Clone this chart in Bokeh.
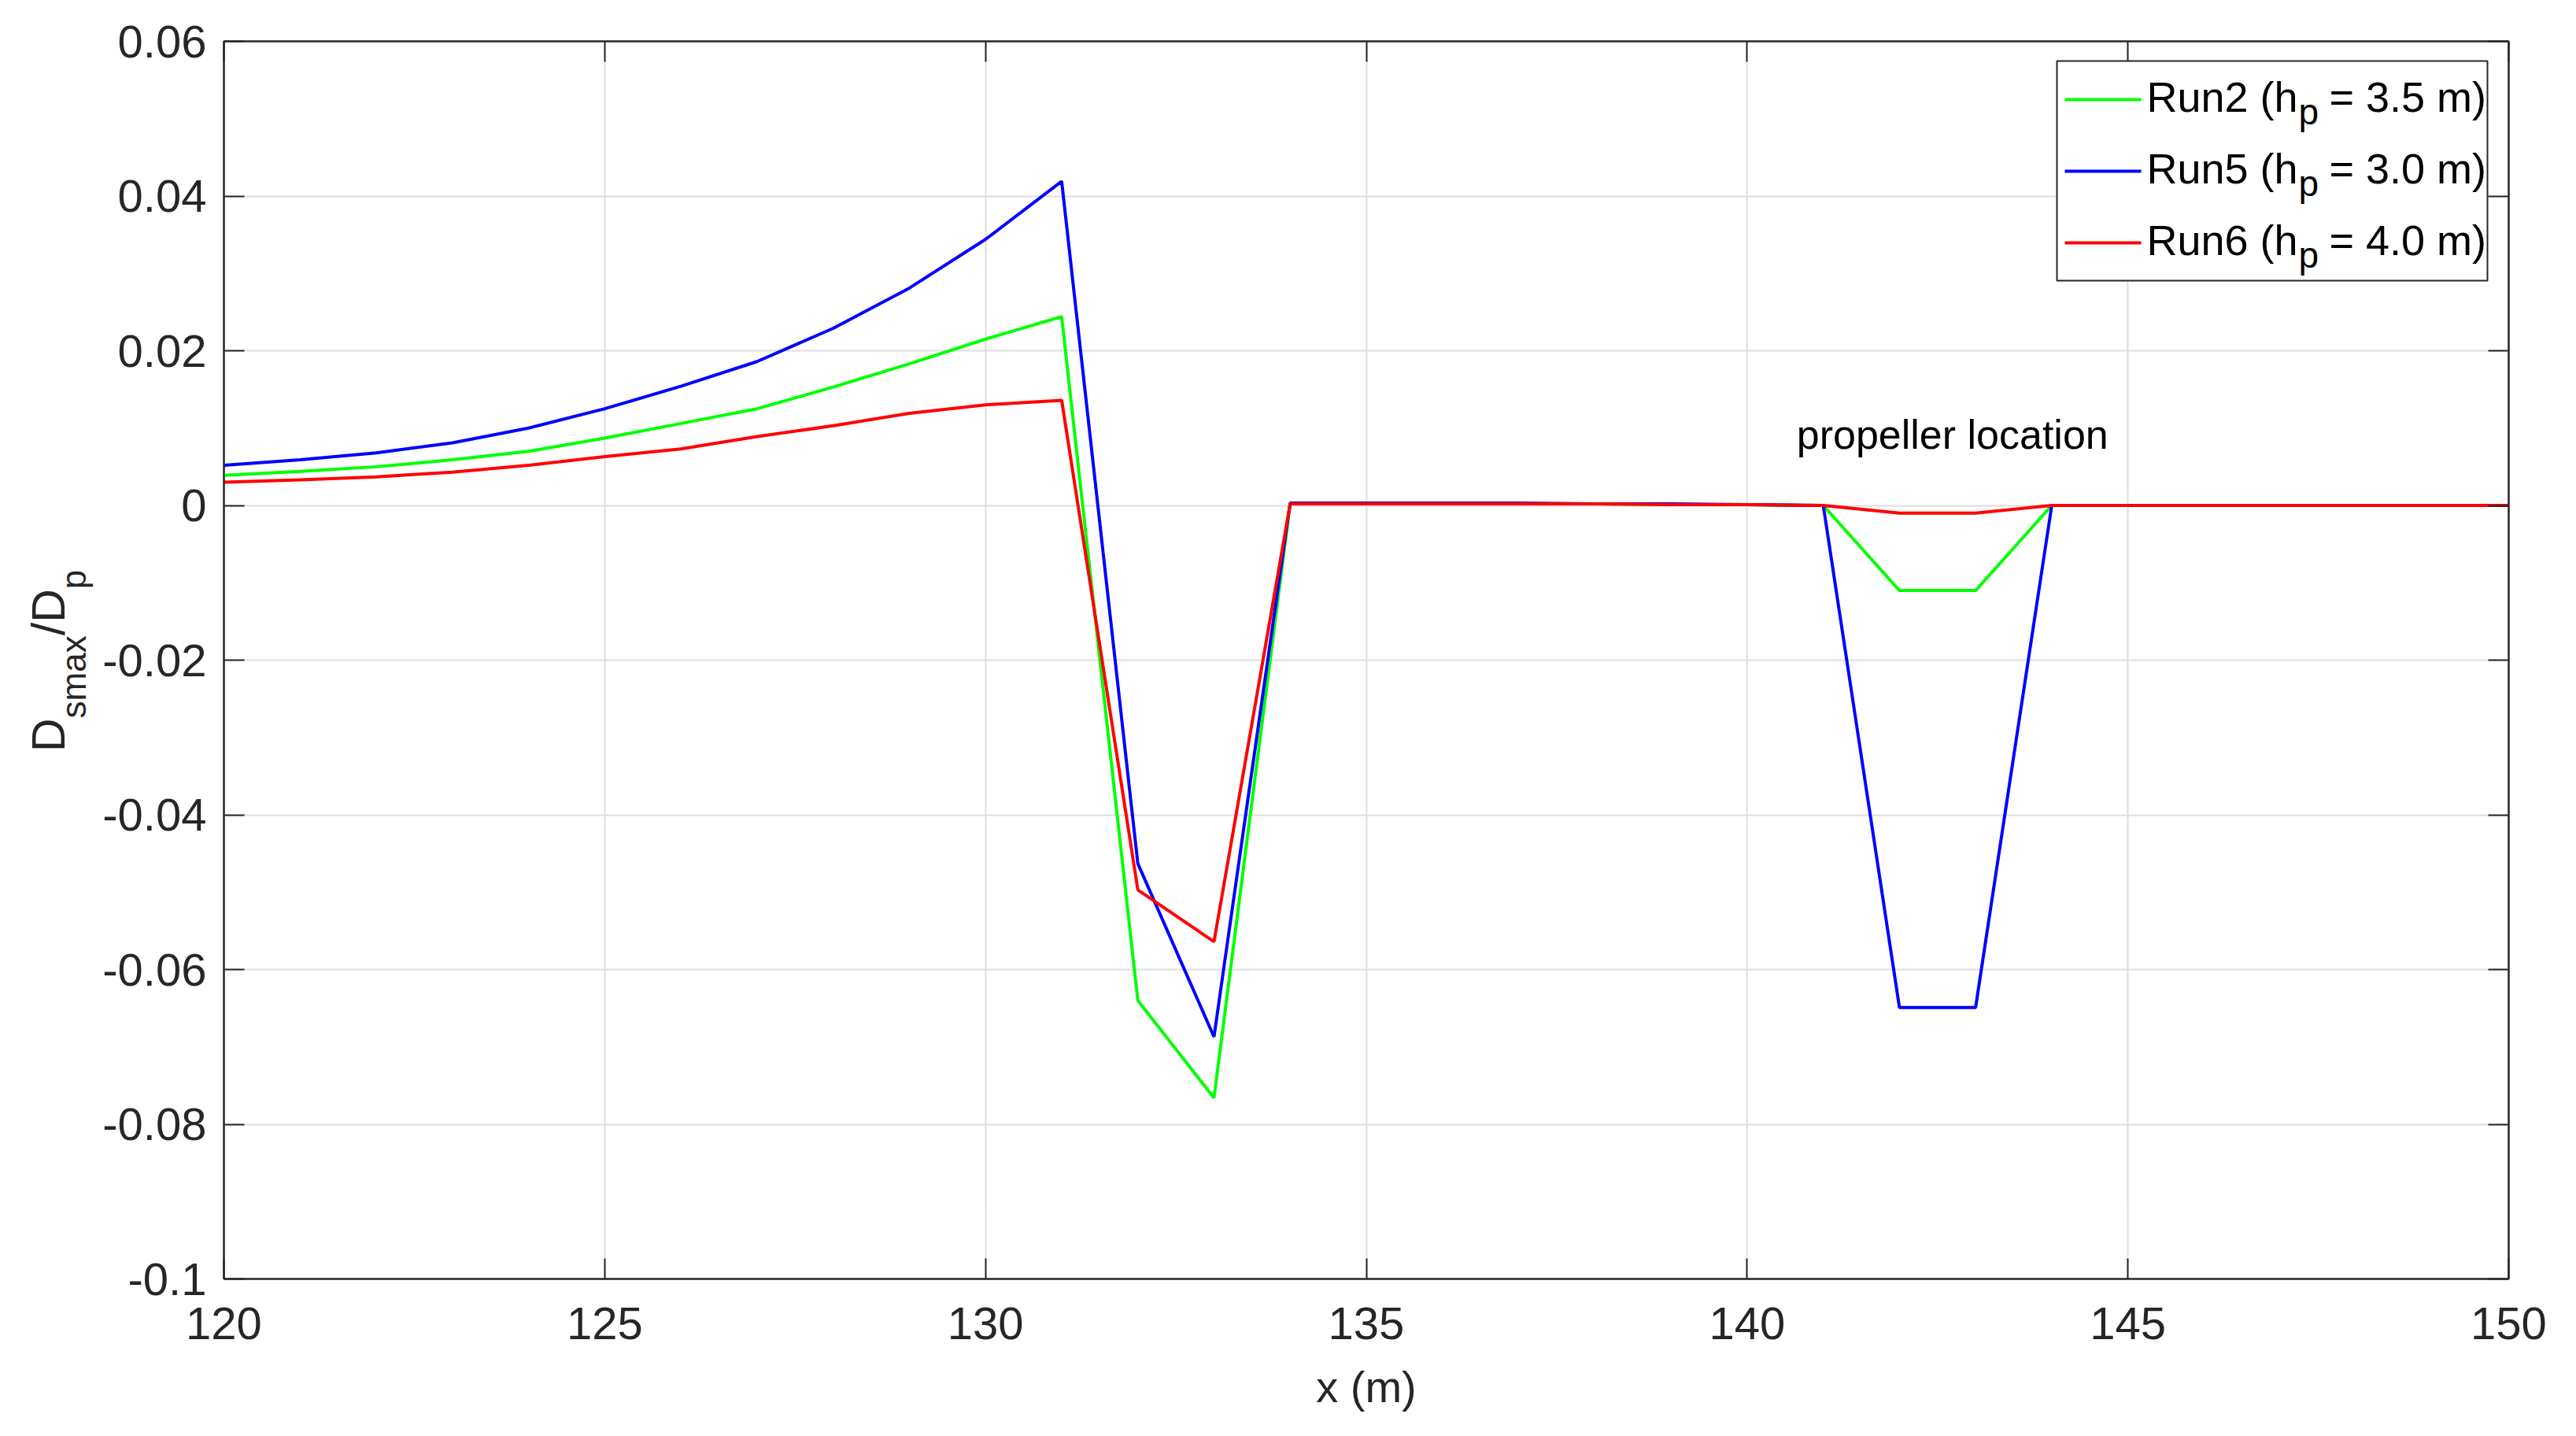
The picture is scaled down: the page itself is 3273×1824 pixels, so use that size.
from bokeh.plotting import figure
from bokeh.layouts import row
from bokeh.models import (Range1d, FixedTicker, LinearAxis, Label, Arrow,
                          BoxAnnotation, ColumnDataSource, Div)
from bokeh.embed import file_html
from bokeh.resources import INLINE

# ---------------- data ----------------
x_m = [120, 121, 122, 123, 124, 125, 126, 127, 128, 129, 130, 131, 132, 133, 134, 135,
       136, 137, 138, 139, 140, 141, 142, 143, 144, 145, 146, 147, 148, 149, 150]

run2 = [0.0039, 0.0044, 0.0050, 0.0059, 0.0070, 0.0087, 0.0106, 0.0125, 0.0153, 0.0183,
        0.0215, 0.0244, -0.0640, -0.0766, 0.0002, 0.0002, 0.0002, 0.0002, 0.0002, 0.0001,
        0.0001, 0.0, -0.0110, -0.0110, 0.0, 0.0, 0.0, 0.0, 0.0, 0.0, 0.0]

run5 = [0.0052, 0.0059, 0.0068, 0.0081, 0.0100, 0.0125, 0.0154, 0.0186, 0.0229, 0.0281,
        0.0344, 0.0419, -0.0463, -0.0687, 0.0003, 0.0003, 0.0003, 0.0003, 0.0002, 0.0002,
        0.0001, 0.0, -0.0649, -0.0649, 0.0, 0.0, 0.0, 0.0, 0.0, 0.0, 0.0]

run6 = [0.0030, 0.0033, 0.0037, 0.0043, 0.0052, 0.0063, 0.0073, 0.0089, 0.0103, 0.0119,
        0.0130, 0.0136, -0.0497, -0.0564, 0.0002, 0.0002, 0.0002, 0.0002, 0.0002, 0.0001,
        0.0001, 0.0, -0.0010, -0.0010, 0.0, 0.0, 0.0, 0.0, 0.0, 0.0, 0.0]

run_names = ["Run2", "Run5", "Run6"]
hp_values = ["3.5", "3.0", "4.0"]
run_colors = ["#00ff00", "#0000ff", "#ff0000"]

x_ticks = [120, 125, 130, 135, 140, 145, 150]
x_tick_labels = ["120", "125", "130", "135", "140", "145", "150"]
y_ticks = [-0.1, -0.08, -0.06, -0.04, -0.02, 0.0, 0.02, 0.04, 0.06]
y_tick_labels = ["-0.1", "-0.08", "-0.06", "-0.04", "-0.02", "0", "0.02", "0.04", "0.06"]

annotation_text = "propeller location"
annotation_x = 140.65
annotation_y = 0.0092        # vertical middle of the text

# ---------------- styling ----------------
FONT = "Liberation Sans"
AX = "#262626"
GRID = "#dedede"
TICK_FS = "58px"
LEG_FS = 54
SUB_FS = 46

W, H = 3257, 1808
LW = 125                       # width of the strip holding the y-axis title
MW = W - LW
ML, MR, MT, MB = 284 - LW, 70, 52, 184

p = figure(width=MW, height=H, output_backend="svg", toolbar_location=None,
           x_range=Range1d(120, 150), y_range=Range1d(-0.1, 0.06),
           min_border_left=ML, min_border_right=MR, min_border_top=MT,
           min_border_bottom=MB, title=None,
           background_fill_color="white", border_fill_color="white")
p.outline_line_color = AX
p.outline_line_width = 2

xt = FixedTicker(ticks=x_ticks)
yt = FixedTicker(ticks=y_ticks)

def style_axis(ax, ticker, labels=None, standoff=0):
    ax.ticker = ticker
    ax.axis_line_color = AX
    ax.axis_line_width = 2
    ax.major_tick_line_color = AX
    ax.major_tick_line_width = 2
    ax.major_tick_in = 26
    ax.major_tick_out = 0
    ax.minor_tick_line_color = None
    ax.major_label_text_font = FONT
    ax.major_label_text_font_size = TICK_FS
    ax.major_label_text_color = AX
    ax.major_label_standoff = standoff
    if labels is not None:
        ax.major_label_overrides = {t: l for t, l in zip(ticker.ticks, labels)}

xa = p.xaxis[0]
style_axis(xa, xt, x_tick_labels, standoff=36)
xa.axis_label = "x (m)"
xa.axis_label_text_font = FONT
xa.axis_label_text_font_size = "56px"
xa.axis_label_text_font_style = "normal"
xa.axis_label_text_color = AX
xa.axis_label_standoff = 26

ya = p.yaxis[0]
style_axis(ya, yt, y_tick_labels, standoff=22)

top_ax = LinearAxis()
style_axis(top_ax, xt, [""] * len(x_ticks))
p.add_layout(top_ax, "above")
right_ax = LinearAxis()
style_axis(right_ax, yt, [""] * len(y_ticks))
p.add_layout(right_ax, "right")

for g in (p.xgrid[0], p.ygrid[0]):
    g.grid_line_color = GRID
    g.grid_line_width = 2
p.xgrid[0].ticker = xt
p.ygrid[0].ticker = yt

# ---------------- lines ----------------
src = ColumnDataSource(dict(x=x_m, run2=run2, run5=run5, run6=run6))
for col, color in zip(["run2", "run5", "run6"], run_colors):
    p.line("x", col, source=src, line_color=color, line_width=4)

# ---------------- legend (drawn by hand: subscripts needed) ----------------
# frame-relative screen units, y measured up from the frame bottom
BOX_L, BOX_R, BOX_T, BOX_B = 2329, 2876, 1547, 1268
p.add_layout(BoxAnnotation(left=BOX_L, right=BOX_R, top=BOX_T, bottom=BOX_B,
                           left_units="screen", right_units="screen",
                           top_units="screen", bottom_units="screen",
                           fill_color="white", fill_alpha=1.0,
                           line_color=AX, line_width=2, line_alpha=1.0))
SW_X0, SW_X1 = 2339, 2436
TXT_X = 2443
w_prefix = (722 + 556 + 556 + 556 + 278 + 333 + 556) / 1000 * LEG_FS
SUB_X = TXT_X + w_prefix + 1
REST_X = 2675
row_centers = [1498, 1407, 1316]
TEXT_LIFT = 4
for name, hp, color, cy in zip(run_names, hp_values, run_colors, row_centers):
    p.add_layout(Arrow(x_start=SW_X0, y_start=cy, x_end=SW_X1, y_end=cy,
                       start_units="screen", end_units="screen", start=None,
                       end=None, line_color=color, line_width=4))
    common = dict(x_units="screen", y_units="screen", text_font=FONT,
                  text_color="black", text_baseline="middle", text_align="left")
    p.add_layout(Label(x=TXT_X, y=cy + TEXT_LIFT, text=f"{name} (h",
                       text_font_size=f"{LEG_FS}px", **common))
    p.add_layout(Label(x=SUB_X, y=cy + TEXT_LIFT - 19, text="p",
                       text_font_size=f"{SUB_FS}px", **common))
    p.add_layout(Label(x=REST_X, y=cy + TEXT_LIFT, text=f"= {hp} m)",
                       text_font_size=f"{LEG_FS}px", **common))

# ---------------- annotation ----------------
p.add_layout(Label(x=annotation_x, y=annotation_y, text=annotation_text,
                   text_font=FONT, text_font_size="52px", text_color="black",
                   text_baseline="middle", text_align="left"))

# ---------------- y-axis title (rotated, with subscripts) ----------------
sub = "font-size:44px;vertical-align:-27px;"
ylab_html = (
    f'<div style="position:relative;width:{LW}px;height:{H}px;overflow:visible;">'
    '<div style="position:absolute;left:33px;top:955px;transform-origin:0 0;'
    'transform:rotate(-90deg);white-space:nowrap;font-family:\'Liberation Sans\';'
    f'font-size:59px;line-height:59px;color:{AX};">'
    f'D<span style="{sub}">smax</span>/D<span style="{sub}">p</span>'
    '</div></div>'
)
ylab = Div(text=ylab_html, width=LW, height=H, margin=0)

layout = row(ylab, p)
open("out.html", "w").write(file_html(layout, INLINE))
